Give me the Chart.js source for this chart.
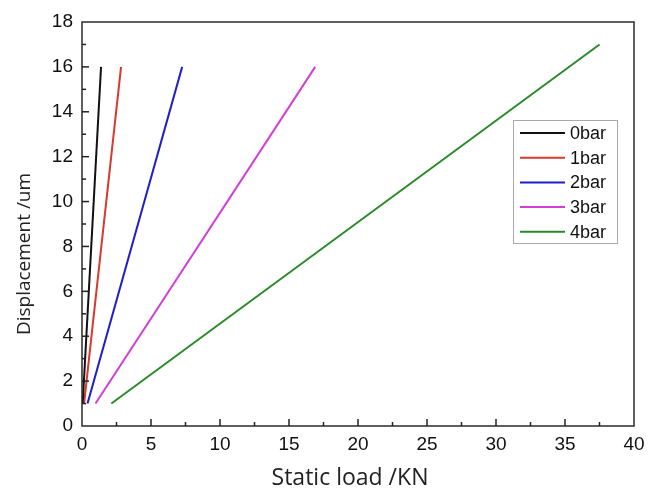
<!DOCTYPE html>
<html>
<head>
<meta charset="utf-8">
<script src="https://cdn.jsdelivr.net/npm/chart.js@4/dist/chart.umd.min.js"></script>
<style>
  html, body { margin: 0; padding: 0; background: #fff; }
  #wrap { width: 657px; height: 492px; position: relative; }
</style>
</head>
<body>
<div id="wrap"><canvas id="c" width="657" height="492"></canvas></div>
<script>
// ---- Data ----
const seriesNames = ['0bar', '1bar', '2bar', '3bar', '4bar'];
const seriesColors = ['#111111', '#d9382f', '#1f1fc8', '#d23fd6', '#2a8a2a'];
const load0bar = [0.05, 1.38];
const disp0bar = [1, 16];
const load1bar = [0.15, 2.83];
const disp1bar = [1, 16];
const load2bar = [0.4, 7.26];
const disp2bar = [1, 16];
const load3bar = [0.98, 16.9];
const disp3bar = [1, 16];
const load4bar = [2.13, 37.5];
const disp4bar = [1, 17];
const xTickValues = [0, 5, 10, 15, 20, 25, 30, 35, 40];
const yTickValues = [0, 2, 4, 6, 8, 10, 12, 14, 16, 18];
const xTitle = 'Static load /KN';
const yTitle = 'Displacement /um';

const loads = [load0bar, load1bar, load2bar, load3bar, load4bar];
const disps = [disp0bar, disp1bar, disp2bar, disp3bar, disp4bar];

const datasets = seriesNames.map((name, i) => ({
  label: name,
  data: loads[i].map((x, k) => ({ x: x, y: disps[i][k] })),
  borderColor: seriesColors[i],
  backgroundColor: seriesColors[i],
  borderWidth: 2,
  pointRadius: 0,
  showLine: true,
  tension: 0
}));

const PLOT = { left: 82, right: 634, top: 22, bottom: 426 };

const framePlugin = {
  id: 'frameTicks',
  afterDraw(chart) {
    const ctx = chart.ctx;
    const xs = chart.scales.x, ys = chart.scales.y;
    const l = xs.left, r = xs.right, t = ys.top, b = ys.bottom;
    ctx.save();
    ctx.strokeStyle = '#2a2a2a';
    ctx.lineWidth = 1.5;
    ctx.strokeRect(l, t, r - l, b - t);
    // inward ticks on bottom axis
    ctx.strokeStyle = '#222';
    for (let v = 2.5; v < 40; v += 2.5) {
      const px = xs.getPixelForValue(v);
      const len = (v % 5 === 0) ? 7 : 4;
      ctx.beginPath(); ctx.moveTo(px, b); ctx.lineTo(px, b - len); ctx.stroke();
    }
    // inward ticks on left axis
    for (let v = 1; v < 18; v += 1) {
      const py = ys.getPixelForValue(v);
      const len = (v % 2 === 0) ? 7 : 4;
      ctx.beginPath(); ctx.moveTo(l, py); ctx.lineTo(l + len, py); ctx.stroke();
    }
    // axis titles
    ctx.fillStyle = '#222';
    ctx.textAlign = 'center';
    ctx.textBaseline = 'middle';
    ctx.font = '23px "Open Sans", "Noto Sans", sans-serif';
    ctx.fillText(xTitle, 350, 478);
    ctx.save();
    ctx.translate(25, 254);
    ctx.rotate(-Math.PI / 2);
    ctx.font = '19px "Open Sans", "Noto Sans", sans-serif';
    ctx.fillText(yTitle, 0, 0);
    ctx.restore();
    // legend
    const lx = 513, ly = 120, lw = 104, lh = 123;
    ctx.fillStyle = '#fff';
    ctx.fillRect(lx, ly, lw, lh);
    ctx.strokeStyle = '#aaa';
    ctx.lineWidth = 1;
    ctx.strokeRect(lx + 0.5, ly + 0.5, lw, lh);
    ctx.font = '18px "Liberation Sans", Arial, sans-serif';
    ctx.textBaseline = 'middle';
    ctx.textAlign = 'left';
    chart.data.datasets.forEach((ds, i) => {
      const y = ly + 13 + i * 24.7;
      ctx.strokeStyle = ds.borderColor;
      ctx.lineWidth = 2;
      ctx.beginPath(); ctx.moveTo(lx + 7, y); ctx.lineTo(lx + 52, y); ctx.stroke();
      ctx.fillStyle = '#111';
      ctx.fillText(ds.label, lx + 57, y + 1);
    });
    ctx.restore();
  }
};

new Chart(document.getElementById('c'), {
  type: 'scatter',
  data: { datasets: datasets },
  options: {
    responsive: false,
    animation: false,
    events: [],
    layout: { padding: { left: 0, right: 657 - PLOT.right, top: PLOT.top, bottom: 0 } },
    plugins: { legend: { display: false }, tooltip: { enabled: false } },
    scales: {
      x: {
        type: 'linear', min: 0, max: 40,
        afterBuildTicks(scale) { scale.ticks = xTickValues.map(v => ({ value: v })); },
        afterFit(scale) { scale.height = 492 - PLOT.bottom; },
        grid: { display: false, drawTicks: false },
        border: { display: false },
        ticks: {
          color: '#111', padding: 7,
          font: { family: '"Liberation Sans", Arial, sans-serif', size: 19 },
          maxRotation: 0, autoSkip: false
        },
        title: { display: false }
      },
      y: {
        type: 'linear', min: 0, max: 18,
        afterBuildTicks(scale) { scale.ticks = yTickValues.map(v => ({ value: v })); },
        afterFit(scale) { scale.width = PLOT.left; },
        grid: { display: false, drawTicks: false },
        border: { display: false },
        ticks: {
          color: '#111', padding: 9,
          font: { family: '"Liberation Sans", Arial, sans-serif', size: 19 },
          autoSkip: false
        },
        title: { display: false }
      }
    }
  },
  plugins: [framePlugin]
});
</script>
</body>
</html>
